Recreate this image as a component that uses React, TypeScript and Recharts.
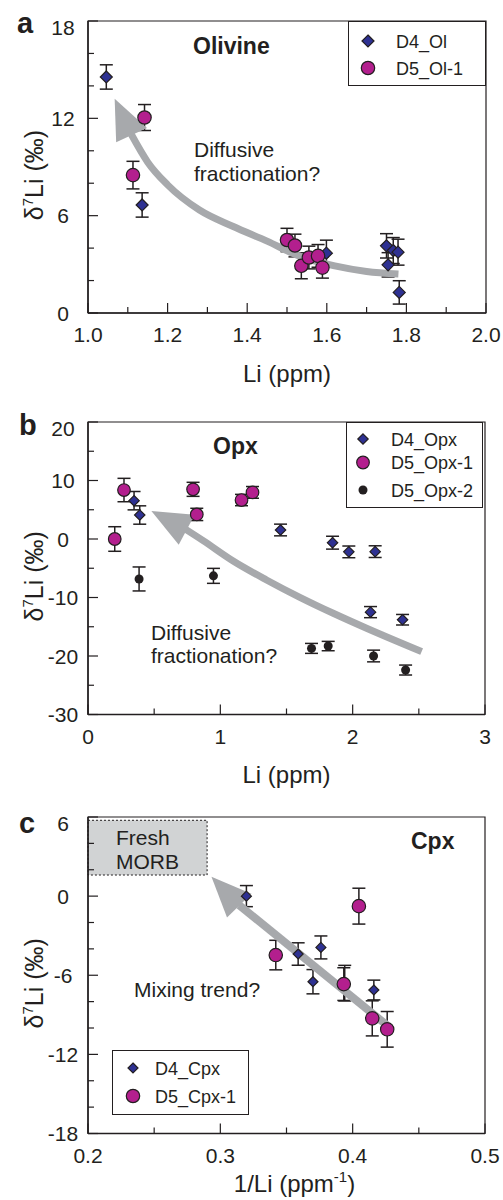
import React from 'react';
import { ScatterChart, Scatter, XAxis, YAxis, ErrorBar, ReferenceArea, Legend, Label } from 'recharts';

const FONT = 'Arial, "Liberation Sans", Helvetica, sans-serif';
const INK = '#231f20';
const NAVY = '#2e3192';
const MAGENTA = '#b31f8e';
const ARROW = '#a7a9ac';

// ---- panel a: olivine  [Li ppm, d7Li, err]
const olLiMajor = [1.0, 1.2, 1.4, 1.6, 1.8, 2.0];
const olLiMinor = [1.1, 1.3, 1.5, 1.7, 1.9];
const olD7Major = [0, 6, 12, 18];
const olD7Minor = [2, 4, 8, 10, 14, 16];
const d4Ol = [
  [1.046, 14.55, 0.75], [1.136, 6.66, 0.75], [1.599, 3.69, 0.8], [1.75, 4.14, 0.75],
  [1.767, 3.85, 0.8], [1.779, 3.75, 0.8], [1.754, 2.97, 0.75], [1.782, 1.27, 0.72],
];
const d5Ol1 = [
  [1.142, 12.05, 0.8], [1.113, 8.5, 0.85], [1.5, 4.5, 0.72], [1.52, 4.16, 0.7],
  [1.536, 2.91, 0.8], [1.555, 3.42, 0.7], [1.578, 3.52, 0.7], [1.589, 2.8, 0.65],
];
const olTrend = [
  [1.109, 11.0], [1.15, 9.3], [1.2, 7.9], [1.28, 6.35], [1.365, 5.33],
  [1.45, 4.43], [1.53, 3.52], [1.62, 2.9], [1.7, 2.56], [1.78, 2.4],
];
const olTrendTip = [[1.067, 13.2]];

// ---- panel b: opx
const opxLiMajor = [0, 1, 2, 3];
const opxLiMinor = [0.5, 1.5, 2.5];
const opxD7Major = [-30, -20, -10, 0, 10, 20];
const opxD7Minor = [-25, -15, -5, 5, 15];
const d4Opx = [
  [0.348, 6.55, 1.57], [0.391, 4.1, 1.57], [1.455, 1.54, 1.0], [1.848, -0.63, 1.1],
  [1.971, -2.2, 1.0], [2.17, -2.16, 1.0], [2.135, -12.5, 0.95], [2.377, -13.8, 0.9],
];
const d5Opx1 = [
  [0.202, 0, 2.1], [0.272, 8.37, 2.0], [0.794, 8.49, 1.2], [0.822, 4.2, 1.05],
  [1.16, 6.66, 0.97], [1.243, 7.97, 1.0],
];
const d5Opx2 = [
  [0.386, -6.83, 2.05], [0.948, -6.3, 1.28], [1.689, -18.7, 0.85], [1.815, -18.3, 0.8],
  [2.158, -20.0, 1.0], [2.4, -22.4, 0.85],
];
const opxTrend = [
  [0.718, 1.94], [0.87, -0.28], [1.097, -3.76], [1.349, -7.0], [1.601, -9.97],
  [1.853, -12.7], [2.105, -15.26], [2.521, -19.25],
];
const opxTrendTip = [[0.479, 4.78]];

// ---- panel c: cpx  [1/Li, d7Li, err]
const cpxInvMajor = [0.2, 0.3, 0.4, 0.5];
const cpxInvMinor = [0.25, 0.35, 0.45];
const cpxD7Major = [-18, -12, -6, 0, 6];
const cpxD7Minor = [-16, -14, -10, -8, -4, -2, 2, 4];
const d4Cpx = [
  [0.3197, 0, 0.8], [0.3588, -4.39, 0.85], [0.416, -7.12, 0.75], [0.376, -3.89, 0.87],
  [0.37, -6.49, 0.92], [0.394, -6.6, 1.35],
];
const d5Cpx1 = [
  [0.3419, -4.47, 1.12], [0.3933, -6.67, 1.24], [0.4047, -0.76, 1.36],
  [0.4148, -9.27, 1.33], [0.4261, -10.1, 1.35],
];
const cpxTrend = [[0.3142, -0.68], [0.4256, -9.77]];
const cpxTrendTip = [[0.2933, 1.46]];
const morbInv = [0.2, 0.29];
const morbD7 = [1.6, 5.75];

const pts = (rows: number[][]) => rows.map(([x, y, e]) => ({ x, y, e }));

const MARKS: Record<string, { kind: string; r: number }> = {
  D4_Ol: { kind: 'diamond', r: 6 },
  'D5_Ol-1': { kind: 'circle', r: 6.7 },
  D4_Opx: { kind: 'diamond', r: 5.2 },
  'D5_Opx-1': { kind: 'circle', r: 6.3 },
  'D5_Opx-2': { kind: 'dot', r: 4.5 },
  D4_Cpx: { kind: 'diamond', r: 5 },
  'D5_Cpx-1': { kind: 'circle', r: 6.7 },
};

function Mark({ kind, cx, cy, r }: any) {
  if (kind === 'diamond')
    return (
      <path
        d={`M${cx},${cy - r}L${cx + r},${cy}L${cx},${cy + r}L${cx - r},${cy}Z`}
        fill={NAVY}
        stroke={INK}
        strokeWidth={1.2}
      />
    );
  if (kind === 'dot') return <circle cx={cx} cy={cy} r={r} fill={INK} />;
  return <circle cx={cx} cy={cy} r={r} fill={MAGENTA} stroke={INK} strokeWidth={1.2} />;
}

function ArrowHead({ cx, cy, angle, len = 40, w = 34 }: any) {
  return (
    <polygon
      points={`0,0 ${-len},${-w / 2} ${-len},${w / 2}`}
      transform={`translate(${cx},${cy}) rotate(${angle})`}
      fill={ARROW}
    />
  );
}

function XTick({ x, y, payload, majors, digits }: any) {
  const major = majors.includes(payload.value);
  return (
    <g>
      <line x1={x} x2={x} y1={y} y2={y - (major ? 10 : 6)} stroke={INK} strokeWidth={1.2} />
      {major && (
        <text x={x} y={y + 29} textAnchor="middle" fontSize={21} fill={INK} fontFamily={FONT}>
          {payload.value.toFixed(digits)}
        </text>
      )}
    </g>
  );
}

function YTick({ x, y, payload, majors, top }: any) {
  const major = majors.includes(payload.value);
  const shift = payload.value === top ? 6 : 0;
  return (
    <g>
      <line x1={x} x2={x + (major ? 10 : 6)} y1={y} y2={y} stroke={INK} strokeWidth={1.2} />
      {major && (
        <text x={x - 25} y={y + 7.5 + shift} textAnchor="middle" fontSize={21} fill={INK} fontFamily={FONT}>
          {payload.value}
        </text>
      )}
    </g>
  );
}

function YTitle({ viewBox }: any) {
  const x = 43;
  const y = viewBox.y + viewBox.height / 2 + 8;
  return (
    <text x={x} y={y} transform={`rotate(-90, ${x}, ${y})`} textAnchor="middle" fontSize={25} fill={INK} fontFamily={FONT}>
      δ<tspan dy={-10} fontSize={15}>7</tspan>
      <tspan dy={10}>Li (‰)</tspan>
    </text>
  );
}

function XTitle({ viewBox, dy, inverse }: any) {
  const x = viewBox.x + viewBox.width / 2 + (inverse ? 8 : 0);
  const y = viewBox.y + dy;
  return (
    <text x={x} y={y} textAnchor="middle" fontSize={24} fill={INK} fontFamily={FONT}>
      {inverse ? (
        <>
          1/Li (ppm<tspan dy={-10} fontSize={15}>-1</tspan>
          <tspan dy={10}>)</tspan>
        </>
      ) : (
        'Li (ppm)'
      )}
    </text>
  );
}

function LegendBox({ payload, w, h, rows, mx, tx }: any) {
  const items = (payload || []).filter((p: any) => MARKS[p.value]);
  return (
    <div style={{ width: w, height: h, boxSizing: 'border-box', border: `1.5px solid ${INK}`, background: '#fff' }}>
      <svg width={w - 3} height={h - 3} style={{ display: 'block' }}>
        {items.map((it: any, i: number) => (
          <g key={it.value}>
            <Mark kind={MARKS[it.value].kind} cx={mx} cy={rows[i]} r={MARKS[it.value].r} />
            <text x={tx} y={rows[i] + 6.5} fontSize={18} fill={INK} fontFamily={FONT}>
              {it.value}
            </text>
          </g>
        ))}
      </svg>
    </div>
  );
}

const errBar = (
  <ErrorBar dataKey="e" direction="y" width={6.5} stroke={INK} strokeWidth={1.5} isAnimationActive={false} />
);

function Frame({ xd, yd }: any) {
  return (
    <ReferenceArea x1={xd[0]} x2={xd[1]} y1={yd[0]} y2={yd[1]} fill="none" stroke={INK} strokeWidth={1.2} ifOverflow="visible" />
  );
}

function Panel({ top, margin, xAxisH, xd, yd, xMajor, xMinor, yMajor, yMinor, digits, titleDy, inverse, children }: any) {
  return (
    <div style={{ position: 'absolute', left: 0, top }}>
      <ScatterChart width={503} height={400} margin={margin}>
        <XAxis
          type="number"
          dataKey="x"
          domain={xd}
          ticks={[...xMajor, ...xMinor].sort((a, b) => a - b)}
          interval={0}
          allowDataOverflow
          height={xAxisH}
          tickSize={0}
          tickMargin={0}
          tickLine={false}
          axisLine={{ stroke: INK, strokeWidth: 1.5 }}
          tick={(p: any) => <XTick {...p} majors={xMajor} digits={digits} />}
        >
          <Label content={(p: any) => <XTitle viewBox={p.viewBox} dy={titleDy} inverse={inverse} />} />
        </XAxis>
        <YAxis
          type="number"
          dataKey="y"
          domain={yd}
          ticks={[...yMajor, ...yMinor].sort((a, b) => a - b)}
          interval={0}
          allowDataOverflow
          width={60}
          tickSize={0}
          tickMargin={0}
          tickLine={false}
          axisLine={{ stroke: INK, strokeWidth: 1.5 }}
          tick={(p: any) => <YTick {...p} majors={yMajor} top={yd[1]} />}
        >
          <Label content={(p: any) => <YTitle viewBox={p.viewBox} />} />
        </YAxis>
        {children}
        <Frame xd={xd} yd={yd} />
      </ScatterChart>
    </div>
  );
}

const trendLine = (data: number[][], joint: any, tip: number[][], angle: number, width = 7) => [
  <Scatter
    key="shaft"
    name="trend"
    legendType="none"
    data={pts(data)}
    line={{ stroke: ARROW, strokeWidth: width }}
    lineJointType={joint}
    shape={() => <g />}
    isAnimationActive={false}
  />,
  <Scatter
    key="tip"
    name="trend-tip"
    legendType="none"
    data={pts(tip)}
    shape={(p: any) => <ArrowHead cx={p.cx} cy={p.cy} angle={angle} />}
    isAnimationActive={false}
  />,
];

const series = (name: string, rows: number[][]) => (
  <Scatter
    key={name}
    name={name}
    data={pts(rows)}
    fill={MARKS[name].kind === 'circle' ? MAGENTA : MARKS[name].kind === 'dot' ? INK : NAVY}
    shape={(p: any) => <Mark kind={MARKS[name].kind} cx={p.cx} cy={p.cy} r={MARKS[name].r} />}
    isAnimationActive={false}
  >
    {errBar}
  </Scatter>
);

const txt = { fontFamily: FONT, fill: INK } as const;

export default function App() {
  return (
    <div style={{ position: 'absolute', left: 0, top: 0, width: 503, height: 1200, background: '#fff', fontFamily: FONT }}>
      <Panel
        top={0}
        margin={{ top: 21, right: 17, bottom: 17, left: 28 }}
        xAxisH={70}
        xd={[1, 2]}
        yd={[0, 18]}
        xMajor={olLiMajor}
        xMinor={olLiMinor}
        yMajor={olD7Major}
        yMinor={olD7Minor}
        digits={1}
        titleDy={69}
      >
        {trendLine(olTrend, 'monotoneX', olTrendTip, -115)}
        {series('D4_Ol', d4Ol)}
        {series('D5_Ol-1', d5Ol1)}
        <Legend
          layout="vertical"
          align="center"
          verticalAlign="middle"
          wrapperStyle={{ left: 348, top: 21, width: 138, height: 65 }}
          content={(p: any) => <LegendBox payload={p.payload} w={138} h={65} rows={[19, 46]} mx={19} tx={47} />}
        />
      </Panel>
      <Panel
        top={400}
        margin={{ top: 22, right: 18, bottom: 15.5, left: 28 }}
        xAxisH={70}
        xd={[0, 3]}
        yd={[-30, 20]}
        xMajor={opxLiMajor}
        xMinor={opxLiMinor}
        yMajor={opxD7Major}
        yMinor={opxD7Minor}
        digits={0}
        titleDy={68}
      >
        {trendLine(opxTrend, 'monotoneX', opxTrendTip, -152)}
        {series('D4_Opx', d4Opx)}
        {series('D5_Opx-1', d5Opx1)}
        {series('D5_Opx-2', d5Opx2)}
        <Legend
          layout="vertical"
          align="center"
          verticalAlign="middle"
          wrapperStyle={{ left: 346, top: 22, width: 137, height: 86 }}
          content={(p: any) => <LegendBox payload={p.payload} w={137} h={86} rows={[16, 39.5, 67]} mx={16} tx={44} />}
        />
      </Panel>
      <Panel
        top={800}
        margin={{ top: 17, right: 18, bottom: 6.5, left: 28 }}
        xAxisH={60}
        xd={[0.2, 0.5]}
        yd={[-18, 6]}
        xMajor={cpxInvMajor}
        xMinor={cpxInvMinor}
        yMajor={cpxD7Major}
        yMinor={cpxD7Minor}
        digits={1}
        titleDy={58}
        inverse
      >
        <ReferenceArea
          x1={morbInv[0]}
          x2={morbInv[1]}
          y1={morbD7[0]}
          y2={morbD7[1]}
          fill="#d1d3d4"
          fillOpacity={1}
          stroke={INK}
          strokeWidth={1}
          strokeDasharray="2 2"
        />
        {trendLine(cpxTrend, 'linear', cpxTrendTip, -134, 8)}
        {series('D4_Cpx', d4Cpx)}
        {series('D5_Cpx-1', d5Cpx1)}
        <Legend
          layout="vertical"
          align="center"
          verticalAlign="middle"
          wrapperStyle={{ left: 112, top: 250, width: 137, height: 65 }}
          content={(p: any) => <LegendBox payload={p.payload} w={137} h={65} rows={[17, 45]} mx={20} tx={42} />}
        />
      </Panel>
      <svg width={503} height={1200} style={{ position: 'absolute', left: 0, top: 0, pointerEvents: 'none' }}>
        <text x={17} y={33} fontSize={29} fontWeight="bold" {...txt}>a</text>
        <text x={193} y={54} fontSize={23} fontWeight="bold" {...txt}>Olivine</text>
        <text x={194} y={157} fontSize={21} {...txt}>Diffusive</text>
        <text x={194} y={180.5} fontSize={21} {...txt}>fractionation?</text>

        <text x={19} y={435} fontSize={29} fontWeight="bold" {...txt}>b</text>
        <text x={213} y={454} fontSize={23} fontWeight="bold" {...txt}>Opx</text>
        <text x={151} y={639.5} fontSize={21} {...txt}>Diffusive</text>
        <text x={151} y={663} fontSize={21} {...txt}>fractionation?</text>

        <text x={19} y={833} fontSize={29} fontWeight="bold" {...txt}>c</text>
        <text x={411} y={849} fontSize={23} fontWeight="bold" {...txt}>Cpx</text>
        <text x={116} y={844.5} fontSize={21} {...txt}>Fresh</text>
        <text x={116} y={868.5} fontSize={21} {...txt}>MORB</text>
        <text x={134} y={997} fontSize={21} {...txt}>Mixing trend?</text>
      </svg>
    </div>
  );
}
